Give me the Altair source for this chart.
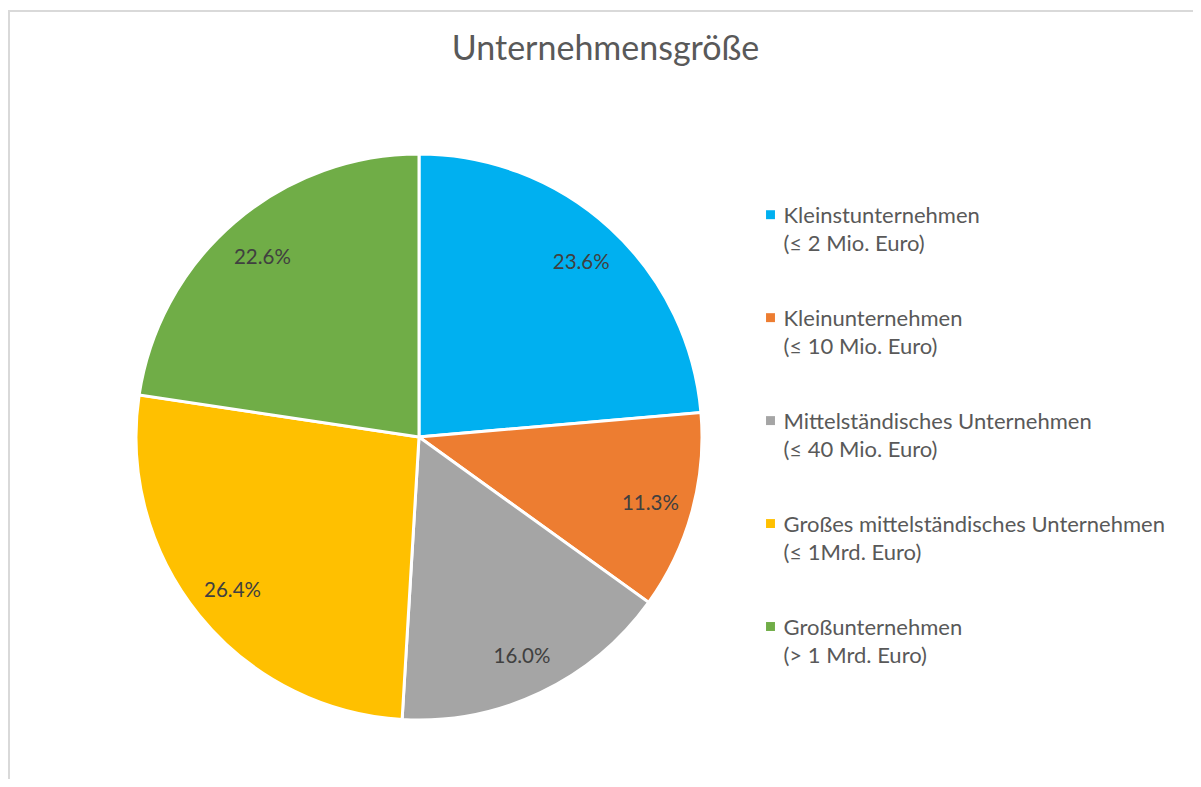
import altair as alt
import pandas as pd

categories = [
    "Kleinstunternehmen",
    "Kleinunternehmen",
    "Mittelständisches Unternehmen",
    "Großes mittelständisches Unternehmen",
    "Großunternehmen",
]
subtitles = [
    "(≤ 2 Mio. Euro)",
    "(≤ 10 Mio. Euro)",
    "(≤ 40 Mio. Euro)",
    "(≤ 1Mrd. Euro)",
    "(> 1 Mrd. Euro)",
]
values = [23.6, 11.3, 16.0, 26.4, 22.6]
colors = ["#00B0F0", "#ED7D31", "#A5A5A5", "#FFC000", "#70AD47"]

df = pd.DataFrame({
    "cat": categories,
    "sub": subtitles,
    "value": values,
    "idx": list(range(len(categories))),
})

W, H = 1185, 771
CX, CY = 411, 429
FONT = "Lato"

color = alt.Color("cat:N", scale=alt.Scale(domain=categories, range=colors), legend=None)
theta = alt.Theta("value:Q", stack=True)
order = alt.Order("idx:Q")

base = alt.Chart(df)

pie = base.mark_arc(outerRadius=283, stroke="white", strokeWidth=3).encode(
    theta=theta, color=color, order=order,
    x=alt.value(CX), y=alt.value(CY),
)

labels = base.transform_calculate(
    label="format(datum.value, '.1f') + '%'"
).mark_text(radius=240, dy=3, font=FONT, fontSize=20.5, color="#404040").encode(
    theta=theta, order=order, detail="cat:N", text="label:N",
    x=alt.value(CX), y=alt.value(CY),
)

ly = alt.Y("cat:N", sort=categories,
           scale=alt.Scale(type="point", range=[206.7, 618.5], padding=0),
           axis=None)

leg_sym = base.mark_square(size=80, opacity=1).encode(
    y=ly, color=color, x=alt.value(762.5)
)
leg_l1 = base.mark_text(align="left", baseline="alphabetic", dy=8,
                        font=FONT, fontSize=22, color="#595959").encode(
    y=ly, text="cat:N", x=alt.value(775.5)
)
leg_l2 = base.mark_text(align="left", baseline="alphabetic", dy=36.7,
                        font=FONT, fontSize=22, color="#595959").encode(
    y=ly, text="sub:N", x=alt.value(775.5)
)

border_df = pd.DataFrame({"k": [0]})
border_left = alt.Chart(border_df).mark_rule(color="#d9d9d9", strokeWidth=2).encode(
    x=alt.value(1), y=alt.value(3), y2=alt.value(H)
)
border_top = alt.Chart(border_df).mark_rule(color="#d9d9d9", strokeWidth=2).encode(
    x=alt.value(0), x2=alt.value(W), y=alt.value(3)
)

chart = alt.layer(
    border_left, border_top, pie, labels, leg_sym, leg_l1, leg_l2
).properties(
    width=W, height=H,
    padding=0,
    autosize=alt.AutoSizeParams(type="none"),
    title=alt.TitleParams(
        "Unternehmensgröße", font=FONT, fontSize=34, fontWeight="normal",
        color="#595959", anchor="middle", frame="group", dx=5,
        baseline="alphabetic", offset=-86,
    ),
).configure_view(stroke=None)

chart.save("out.html", embed_options={"renderer": "svg", "actions": False})
